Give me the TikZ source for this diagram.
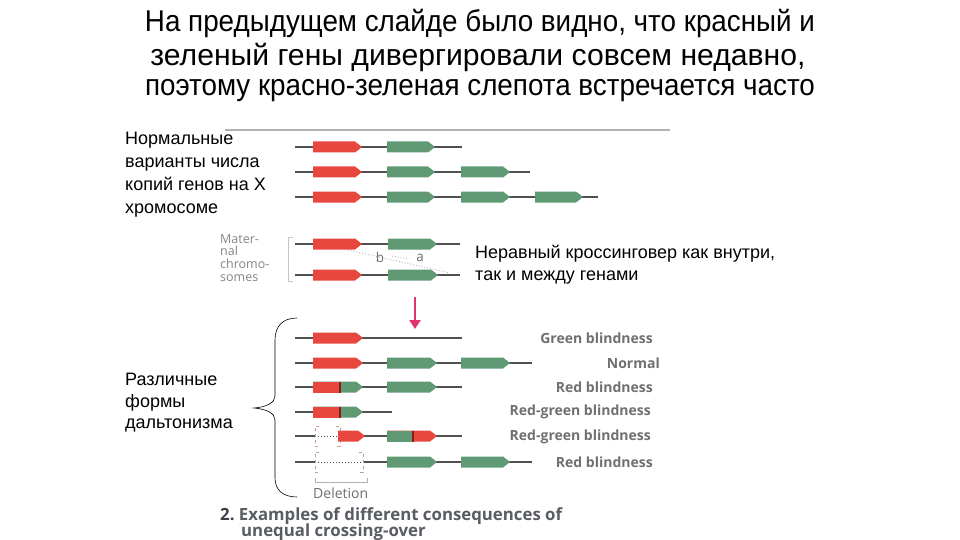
\documentclass[tikz,border=0pt]{standalone}
\usepackage{fontspec}
\usepackage{graphicx}
\setmainfont{Liberation Sans}
\newfontfamily\figfont{Open Sans}
\usetikzlibrary{arrows.meta}
\definecolor{genered}{HTML}{E8473F}
\definecolor{genegreen}{HTML}{5F9A75}
\definecolor{chromgray}{HTML}{505050}
\definecolor{lblgray}{HTML}{707070}
\definecolor{capcol}{HTML}{3C4048}
\definecolor{arrowred}{HTML}{E0356B}
\definecolor{darkred}{HTML}{8A1A1A}
\newcommand{\gn}[4]{\fill[#4] (#1,#3-5.5) -- (#2-7,#3-5.5) -- (#2,#3) -- (#2-7,#3+5.5) -- (#1,#3+5.5) -- cycle;}
\newcommand{\hyb}[6]{\fill[#6] (#1,#4-5.5) -- (#3-7,#4-5.5) -- (#3,#4) -- (#3-7,#4+5.5) -- (#1,#4+5.5) -- cycle;
  \fill[#5] (#1,#4-5.5) rectangle (#2,#4+5.5);
  \draw[darkred, line width=1.2pt] (#2,#4-5.5) -- (#2,#4+5.5);}
\tikzset{
  chrom/.style={draw=chromgray, line width=1.2pt},
  titletxt/.style={font=\fontsize{30}{32}\selectfont, inner sep=0pt},
  sidetxt/.style={font=\fontsize{18}{23}\selectfont, align=left, anchor=north west, inner sep=0pt},
  lbl/.style={font=\figfont\bfseries\fontsize{14}{15}\selectfont, text=lblgray, anchor=east, inner sep=0pt},
  mattxt/.style={font=\figfont\fontsize{12.5}{12.7}\selectfont, text=lblgray!85, align=left, anchor=north west, inner sep=0pt},
  brk/.style={draw=gray!70, line width=0.6pt, dashed},
  dotln/.style={draw=chromgray, line width=1pt, dotted},
}
\begin{document}
\begin{tikzpicture}[x=1pt,y=-1pt]
\useasboundingbox (0,0) rectangle (960,540);
\fill[white] (0,0) rectangle (960,540);
% title
\node[titletxt] (t1) at (480,23) {\resizebox{670pt}{\height}{На предыдущем слайде было видно, что красный и}};
\node[titletxt] (t2) at (478,57) {\resizebox{655pt}{\height}{зеленый гены дивергировали совсем недавно,}};
\node[titletxt] (t3) at (480,91) {\resizebox{670pt}{\height}{поэтому красно-зеленая слепота встречается часто}};
% top rule
\draw[gray!60, line width=1.6pt] (225,130) -- (670,130);
% left texts
\node[sidetxt] (norm) at (125,132) {Нормальные\\варианты числа\\копий генов на X\\хромосоме};
\node[sidetxt, font=\fontsize{18}{21.5}\selectfont] (forms) at (125,373) {Различные\\формы\\дальтонизма};
% top rows
\draw[chrom] (295,147) -- (462,147);
\gn{313}{362}{147}{genered} \gn{387}{435}{147}{genegreen}
\draw[chrom] (295,172) -- (530,172);
\gn{313}{362}{172}{genered} \gn{387}{435}{172}{genegreen} \gn{461}{510}{172}{genegreen}
\draw[chrom] (295,197) -- (598,197);
\gn{313}{362}{197}{genered} \gn{387}{435}{197}{genegreen} \gn{461}{510}{197}{genegreen} \gn{535}{583}{197}{genegreen}
% maternal chromosomes
\node[mattxt] (mat) at (220,234) {Mater-\\nal\\chromo-\\somes};
\draw[gray!45, line width=0.8pt] (293,237) -- (288,237) -- (288,281) -- (293,281);
\draw[chrom] (295,244) -- (460,244);
\gn{313}{362}{244}{genered} \gn{388}{437}{244}{genegreen}
\draw[chrom] (295,275) -- (460,275);
\gn{313}{362}{275}{genered} \gn{388}{438}{275}{genegreen}
\draw[gray!60, line width=0.9pt, dotted] (348,250) -- (450,273);
\draw[gray!60, line width=0.9pt, dotted] (392,256) -- (408,259);
\node[font=\figfont\fontsize{13.5}{13.5}\selectfont, text=lblgray, inner sep=0pt] (lb) at (380,257) {b};
\node[font=\figfont\fontsize{13.5}{13.5}\selectfont, text=lblgray, inner sep=0pt] (la) at (420,258) {a};
\node[sidetxt, font=\fontsize{18}{22}\selectfont] (uneq) at (475,245) {Неравный кроссинговер как внутри,\\так и между генами};
% arrow
\coordinate (arS) at (415,297);
\coordinate (arE) at (415,329);
\draw[arrowred, line width=2.6pt, -{Triangle[length=9pt,width=11pt]}] (arS) -- (arE);
% brace
\draw[black, line width=0.6pt] (297,318) .. controls (283,318) and (275,326) .. (275,340) -- (275,396)
  .. controls (275,403) and (266,407) .. (254,408) .. controls (266,409) and (275,413) .. (275,420) -- (275,478)
  .. controls (275,490) and (283,497) .. (297,497);
% lower rows
\draw[chrom] (295,338) -- (462,338);
\gn{313}{363}{338}{genered}
\node[lbl] (l1) at (653,338) {Green blindness};
\draw[chrom] (295,363) -- (532,363);
\gn{313}{363}{363}{genered} \gn{387}{437}{363}{genegreen} \gn{461}{510}{363}{genegreen}
\node[lbl] (l2) at (660,363) {Normal};
\draw[chrom] (295,387) -- (462,387);
\hyb{313}{340}{363}{387}{genered}{genegreen} \gn{387}{437}{387}{genegreen}
\node[lbl] (l3) at (653,387) {Red blindness};
\draw[chrom] (295,412) -- (392,412);
\hyb{313}{340}{363}{412}{genered}{genegreen}
\node[lbl] (l4) at (651,412) {Red-green blindness};
\draw[chrom] (295,436) -- (315,436);
\draw[dotln] (315,436) -- (338,436);
\draw[chrom] (338,436) -- (462,436);
\draw[brk, draw=red!30!gray!60] (319,426) -- (315,426) -- (315,446) -- (319,446);
\draw[brk, draw=red!30!gray!60] (336,426) -- (340,426) -- (340,446) -- (336,446);
\gn{338}{365}{436}{genered}
\hyb{387}{413}{437}{436}{genegreen}{genered}
\node[lbl] (l5) at (651,437) {Red-green blindness};
\draw[chrom] (295,462) -- (315,462);
\draw[dotln] (315,462) -- (363,462);
\draw[chrom] (363,462) -- (532,462);
\draw[brk] (319,452) -- (315,452) -- (315,472) -- (319,472);
\draw[brk] (359,452) -- (363,452) -- (363,472) -- (359,472);
\gn{387}{437}{462}{genegreen} \gn{461}{510}{462}{genegreen}
\node[lbl] (l6) at (653,462) {Red blindness};
% deletion
\draw[gray!60, line width=0.8pt] (315,478) -- (315,482) -- (367,482) -- (367,478);
\node[font=\figfont\fontsize{14}{14}\selectfont, text=lblgray, anchor=west, inner sep=0pt] (del) at (313,493) {Deletion};
% caption
\node[font=\figfont\bfseries\fontsize{16.8}{16.8}\selectfont, text=capcol, anchor=west, inner sep=0pt] (c1) at (220,516) {2.~\textcolor{capcol!85}{Examples of different consequences of}};
\node[font=\figfont\bfseries\fontsize{16.8}{16.8}\selectfont, text=capcol!85, anchor=west, inner sep=0pt] (c2) at (241,532) {unequal crossing-over};
\end{tikzpicture}
\end{document}
